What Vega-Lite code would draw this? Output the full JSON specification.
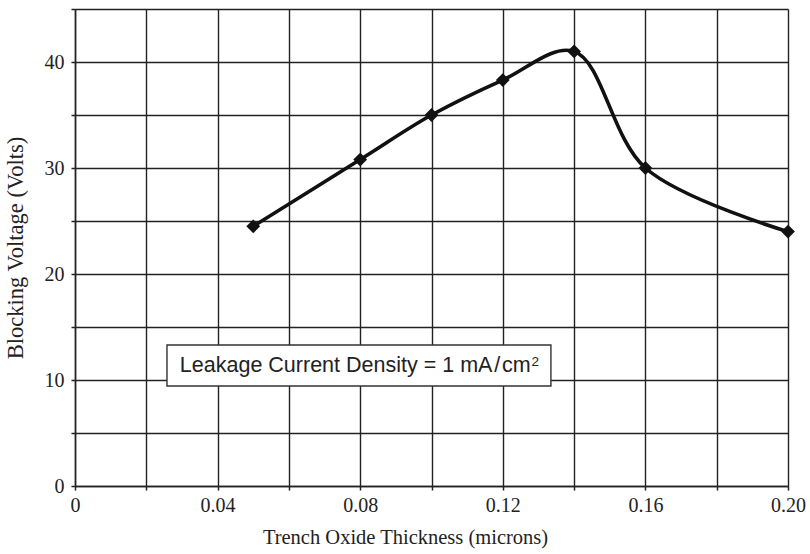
{
  "$schema": "https://vega.github.io/schema/vega-lite/v6.json",
  "width": 713,
  "height": 477,
  "autosize": "none",
  "padding": {"left": 75, "top": 9, "right": 22, "bottom": 68},
  "background": "white",
  "config": {
    "view": {"stroke": null},
    "axis": {
      "labelFont": "Liberation Serif",
      "titleFont": "Liberation Serif",
      "labelFontSize": 20,
      "titleFontSize": 20.5,
      "titleFontWeight": "normal",
      "labelColor": "#222",
      "titleColor": "#222",
      "domainColor": "#222",
      "domainWidth": 1.5,
      "tickColor": "#222",
      "tickWidth": 1.5,
      "tickSize": 4,
      "gridColor": "#222",
      "gridWidth": 1.4,
      "gridOpacity": 1
    }
  },
  "datasets": {
    "pts": [
      {"t": 0.05, "v": 24.5},
      {"t": 0.08, "v": 30.8},
      {"t": 0.10, "v": 35.0},
      {"t": 0.12, "v": 38.3},
      {"t": 0.14, "v": 41.0},
      {"t": 0.16, "v": 30.0},
      {"t": 0.20, "v": 24.0}
    ],
    "box": [
      {"x1": 0.0258, "x2": 0.1335, "y1": 9.43, "y2": 13.3, "tx": 0.1278, "ty": 10.75, "sy": 11.3, "label": "Leakage Current Density = 1 mA\u200a/\u200acm", "sup": "2"}
    ]
  },
  "layer": [
    {
      "data": {"name": "pts"},
      "mark": {"type": "line", "interpolate": "catmull-rom", "color": "#111", "strokeWidth": 3.6},
      "encoding": {
        "x": {
          "field": "t", "type": "quantitative",
          "scale": {"domain": [0, 0.2], "nice": false, "zero": true},
          "axis": {
            "values": [0, 0.02, 0.04, 0.06, 0.08, 0.1, 0.12, 0.14, 0.16, 0.18, 0.2],
            "labelExpr": "datum.value == 0 ? '0' : (round(datum.value * 100) % 4 == 0 ? format(datum.value, '.2f') : '')",
            "title": "Trench Oxide Thickness (microns)",
            "titleX": 330,
            "labelPadding": 5,
            "titlePadding": 12,
            "labelFlush": false
          }
        },
        "y": {
          "field": "v", "type": "quantitative",
          "scale": {"domain": [0, 45], "nice": false},
          "axis": {
            "values": [0, 5, 10, 15, 20, 25, 30, 35, 40, 45],
            "labelExpr": "datum.value % 10 == 0 ? datum.label : ''",
            "title": "Blocking Voltage (Volts)",
            "titleFontSize": 22.5,
            "labelPadding": 7,
            "titlePadding": 17,
            "labelFlush": false
          }
        }
      }
    },
    {
      "data": {"name": "pts"},
      "mark": {"type": "point", "shape": "diamond", "filled": true, "color": "#111", "size": 190, "opacity": 1},
      "encoding": {
        "x": {"field": "t", "type": "quantitative"},
        "y": {"field": "v", "type": "quantitative"}
      }
    },
    {
      "data": {"name": "box"},
      "mark": {"type": "rect", "fill": "white", "stroke": "#333", "strokeWidth": 1.4},
      "encoding": {
        "x": {"field": "x1", "type": "quantitative"},
        "x2": {"field": "x2"},
        "y": {"field": "y1", "type": "quantitative"},
        "y2": {"field": "y2"}
      }
    },
    {
      "data": {"name": "box"},
      "mark": {"type": "text", "font": "Liberation Sans", "fontSize": 21.5, "color": "#222", "align": "right", "baseline": "alphabetic"},
      "encoding": {
        "x": {"field": "tx", "type": "quantitative"},
        "y": {"field": "ty", "type": "quantitative"},
        "text": {"field": "label"}
      }
    },
    {
      "data": {"name": "box"},
      "mark": {"type": "text", "font": "Liberation Sans", "fontSize": 13.5, "color": "#222", "align": "left", "baseline": "alphabetic", "dx": 1},
      "encoding": {
        "x": {"field": "tx", "type": "quantitative"},
        "y": {"field": "sy", "type": "quantitative"},
        "text": {"field": "sup"}
      }
    }
  ]
}
